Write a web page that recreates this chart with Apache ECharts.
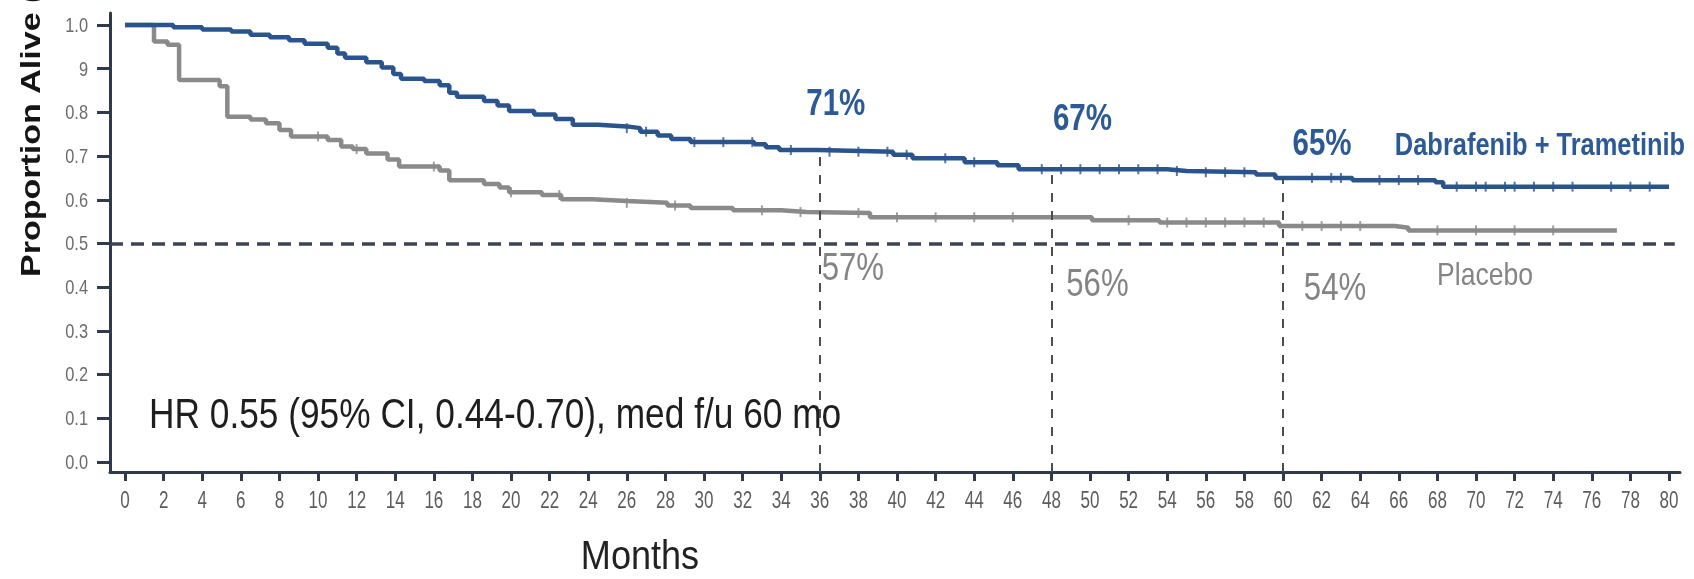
<!DOCTYPE html>
<html>
<head>
<meta charset="utf-8">
<script src="https://cdn.jsdelivr.net/npm/echarts@6/dist/echarts.min.js"></script>
<style>
  html, body { margin: 0; padding: 0; background: #ffffff; }
  #chart { width: 1694px; height: 579px; }
</style>
</head>
<body>
<div id="chart"></div>
<script>
// Kaplan-Meier overall survival: [month, proportion alive]
const dabTramCurve = [
  [0, 1.0], [2.5, 0.995], [4, 0.99], [5.5, 0.985], [6.5, 0.978], [7.5, 0.972], [8.5, 0.965],
  [9.3, 0.957], [10.5, 0.948], [11.0, 0.935], [11.4, 0.925], [12.5, 0.915], [13.3, 0.903],
  [13.9, 0.888], [14.3, 0.877], [15.5, 0.872], [16.3, 0.862], [16.8, 0.845], [17.2, 0.836],
  [18.6, 0.826], [19.3, 0.816], [19.9, 0.803], [21.2, 0.795], [22.3, 0.785], [23.2, 0.772],
  [24.5, 0.768], [26.0, 0.764], [26.7, 0.756], [27.6, 0.747], [28.3, 0.739], [29.3, 0.732],
  [32.6, 0.727], [33.2, 0.72], [33.9, 0.714], [35.9, 0.71], [39.8, 0.703], [40.8, 0.695],
  [43.5, 0.686], [45.2, 0.679], [46.3, 0.67], [54.0, 0.666], [55.0, 0.663], [58.6, 0.658],
  [59.6, 0.65], [63.6, 0.645], [67.9, 0.64], [68.3, 0.63], [80, 0.63]
];
const placeboCurve = [
  [0, 1.0], [1.5, 0.962], [2.2, 0.955], [2.8, 0.874], [4.9, 0.86], [5.3, 0.79], [6.5, 0.784],
  [7.3, 0.775], [8.0, 0.76], [8.6, 0.745], [10.5, 0.737], [11.2, 0.722], [11.8, 0.716],
  [12.5, 0.706], [13.6, 0.692], [14.2, 0.676], [16.3, 0.667], [16.8, 0.645], [18.6, 0.636],
  [19.4, 0.628], [19.9, 0.617], [21.6, 0.611], [22.6, 0.601], [24.2, 0.597], [26.0, 0.593],
  [28.1, 0.587], [29.3, 0.581], [31.5, 0.576], [34.0, 0.572], [35.3, 0.57], [38.6, 0.56],
  [50.1, 0.553], [53.6, 0.548], [59.8, 0.54], [65.8, 0.536], [66.5, 0.53], [77.3, 0.53]
];

// Censoring times (months)
const dabTramCensored = [26, 27, 29.5, 31, 32.5, 34.5, 36.5, 38, 39.5, 40.5, 42.5, 44, 47.5, 48.5,
  49.5, 50.5, 51.5, 52.5, 53.5, 54.5, 56, 57, 58, 61.5, 62.5, 63, 65, 66, 67, 69, 70, 70.5, 71.5,
  72, 73, 74, 75, 77, 78, 79];
const placeboCensored = [10, 12, 16, 20, 22.5, 26, 28.5, 33, 35, 38, 40, 42, 44, 46, 52, 54, 55, 56,
  57, 58, 59, 61, 62, 63, 64, 68, 70, 72, 74];

// Landmark survival estimates
const landmarkMonths = [36, 48, 60];
const dabTramLandmarks = [0.71, 0.67, 0.65];
const placeboLandmarks = [0.57, 0.56, 0.54];

// Axis ticks
const monthTicks = [0, 2, 4, 6, 8, 10, 12, 14, 16, 18, 20, 22, 24, 26, 28, 30, 32, 34, 36, 38, 40,
  42, 44, 46, 48, 50, 52, 54, 56, 58, 60, 62, 64, 66, 68, 70, 72, 74, 76, 78, 80];
const proportionTicks = [0, 0.1, 0.2, 0.3, 0.4, 0.5, 0.6, 0.7, 0.8, 0.9, 1.0];
const proportionTickLabels = ['0.0', '0.1', '0.2', '0.3', '0.4', '0.5', '0.6', '0.7', '0.8', '9', '1.0'];

const medianLine = 0.5;
const armNames = ['Dabrafenib + Trametinib', 'Placebo'];
const hrText = 'HR 0.55 (95% CI, 0.44-0.70), med f/u 60 mo';
const xTitle = 'Months';
const yTitle = 'Proportion Alive (%)';

// ---- styling ----
const SANS = "'Liberation Sans', Arial, sans-serif";
const CONDENSE = 0.82;              // horizontal squeeze for the tall, narrow lettering
const BLUE = '#2a548e';
const BLUE_TEXT = '#2c5a97';
const GREY = '#8a8a8a';
const GREY_TEXT = '#848484';
const AXIS = '#2f3b4c';
const X_MIN = -0.78, X_MAX = 80.57;
const Y_MIN = -0.023, Y_MAX = 1.0275;

function stepValue(curve, t) {
  let v = curve[0][1];
  for (const [m, s] of curve) { if (m <= t) v = s; else break; }
  return v;
}

// text placed at a data point, shifted by a pixel offset and squeezed horizontally
function textSeries(points, textOf, offsets, font, fill, align, scaleX) {
  return {
    type: 'custom',
    clip: false,
    silent: true,
    z: 6,
    data: points,
    renderItem: (params, api) => {
      const i = params.dataIndex;
      const p = api.coord([api.value(0), api.value(1)]);
      const off = offsets[i] || offsets[0];
      return {
        type: 'text',
        x: p[0] + off[0],
        y: p[1] + off[1],
        scaleX: scaleX,
        style: { text: textOf(i), font: font, fill: fill, align: align, verticalAlign: 'middle' }
      };
    }
  };
}

function censorSeries(times, curve, color) {
  return {
    type: 'scatter',
    symbol: 'rect',
    symbolSize: [2, 10],
    itemStyle: { color: color },
    silent: true,
    z: 4,
    data: times.map(t => [t, stepValue(curve, t)])
  };
}

const blueLabelOffsets = [[16, -47], [31, -49], [39, -33]];
const greyLabelOffsets = [[33, 57], [46, 68], [52, 64]];

const chart = echarts.init(document.getElementById('chart'), null, { renderer: 'canvas' });

chart.setOption({
  backgroundColor: '#ffffff',
  animation: false,
  grid: { left: 110, right: 14, top: 13, bottom: 107, containLabel: false, outerBoundsMode: 'none' },
  xAxis: {
    type: 'value',
    min: X_MIN,
    max: X_MAX,
    splitLine: { show: false },
    axisLine: { onZero: false, lineStyle: { color: AXIS, width: 3 } },
    axisTick: { customValues: monthTicks, length: 9, lineStyle: { color: AXIS, width: 3 } },
    axisLabel: { show: false }
  },
  yAxis: {
    type: 'value',
    min: Y_MIN,
    max: Y_MAX,
    splitLine: { show: false },
    axisLine: { onZero: false, lineStyle: { color: AXIS, width: 3 } },
    axisTick: { customValues: proportionTicks, length: 13, lineStyle: { color: AXIS, width: 3 } },
    axisLabel: { show: false }
  },
  series: [
    {
      name: armNames[1],
      type: 'line',
      step: 'end',
      showSymbol: false,
      silent: true,
      z: 3,
      lineStyle: { color: GREY, width: 4.5 },
      data: placeboCurve
    },
    {
      name: armNames[0],
      type: 'line',
      step: 'end',
      showSymbol: false,
      silent: true,
      z: 3,
      lineStyle: { color: BLUE, width: 4.5 },
      data: dabTramCurve,
      markLine: {
        silent: true,
        symbol: 'none',
        label: { show: false },
        data: [
          [{ coord: [X_MIN, medianLine], lineStyle: { color: '#3b4452', width: 3.5, type: [13, 8] } },
           { coord: [80.3, medianLine] }]
        ].concat(landmarkMonths.map((m, i) => [
          { coord: [m, Y_MIN], lineStyle: { color: '#4a4d52', width: 2, type: [9, 9] } },
          { coord: [m, dabTramLandmarks[i]] }
        ]))
      }
    },
    censorSeries(placeboCensored, placeboCurve, GREY),
    censorSeries(dabTramCensored, dabTramCurve, BLUE),
    // tick labels
    textSeries(monthTicks.map(m => [m, Y_MIN]), i => String(monthTicks[i]), [[0, 30]],
      '23px ' + SANS, '#5c5c5c', 'center', 0.74),
    textSeries(proportionTicks.map(p => [X_MIN, p]), i => proportionTickLabels[i], [[-22, 1]],
      '21px ' + SANS, '#6c6c6c', 'right', 0.78),
    // landmark percentages
    textSeries(landmarkMonths.map((m, i) => [m, dabTramLandmarks[i]]),
      i => Math.round(dabTramLandmarks[i] * 100) + '%', blueLabelOffsets,
      'bold 36px ' + SANS, BLUE_TEXT, 'center', CONDENSE),
    textSeries(landmarkMonths.map((m, i) => [m, placeboLandmarks[i]]),
      i => Math.round(placeboLandmarks[i] * 100) + '%', greyLabelOffsets,
      '38px ' + SANS, GREY_TEXT, 'center', CONDENSE)
  ],
  graphic: [
    {
      type: 'text', x: 1540, y: 146, scaleX: CONDENSE, silent: true,
      style: { text: armNames[0], font: 'bold 31px ' + SANS, fill: BLUE_TEXT, align: 'center', verticalAlign: 'middle' }
    },
    {
      type: 'text', x: 1485, y: 276, scaleX: 0.83, silent: true,
      style: { text: armNames[1], font: '32px ' + SANS, fill: GREY_TEXT, align: 'center', verticalAlign: 'middle' }
    },
    {
      type: 'text', x: 149, y: 416, scaleX: 0.84, silent: true,
      style: { text: hrText, font: '42px ' + SANS, fill: '#1e1e1e', align: 'left', verticalAlign: 'middle' }
    },
    {
      type: 'text', x: 640, y: 558, scaleX: 0.88, silent: true,
      style: { text: xTitle, font: '41px ' + SANS, fill: '#222222', align: 'center', verticalAlign: 'middle' }
    },
    {
      type: 'text', x: 615, y: 8.5, scaleX: 0.85, silent: true,
      style: { text: xTitle, font: '40px ' + SANS, fill: '#333333', align: 'center', verticalAlign: 'bottom' }
    },
    {
      type: 'text', x: 33, y: 277, rotation: Math.PI / 2, scaleX: 1.26, silent: true,
      style: { text: yTitle, font: 'bold 27px ' + SANS, fill: '#151515', align: 'left', verticalAlign: 'middle' }
    }
  ]
});
</script>
</body>
</html>
